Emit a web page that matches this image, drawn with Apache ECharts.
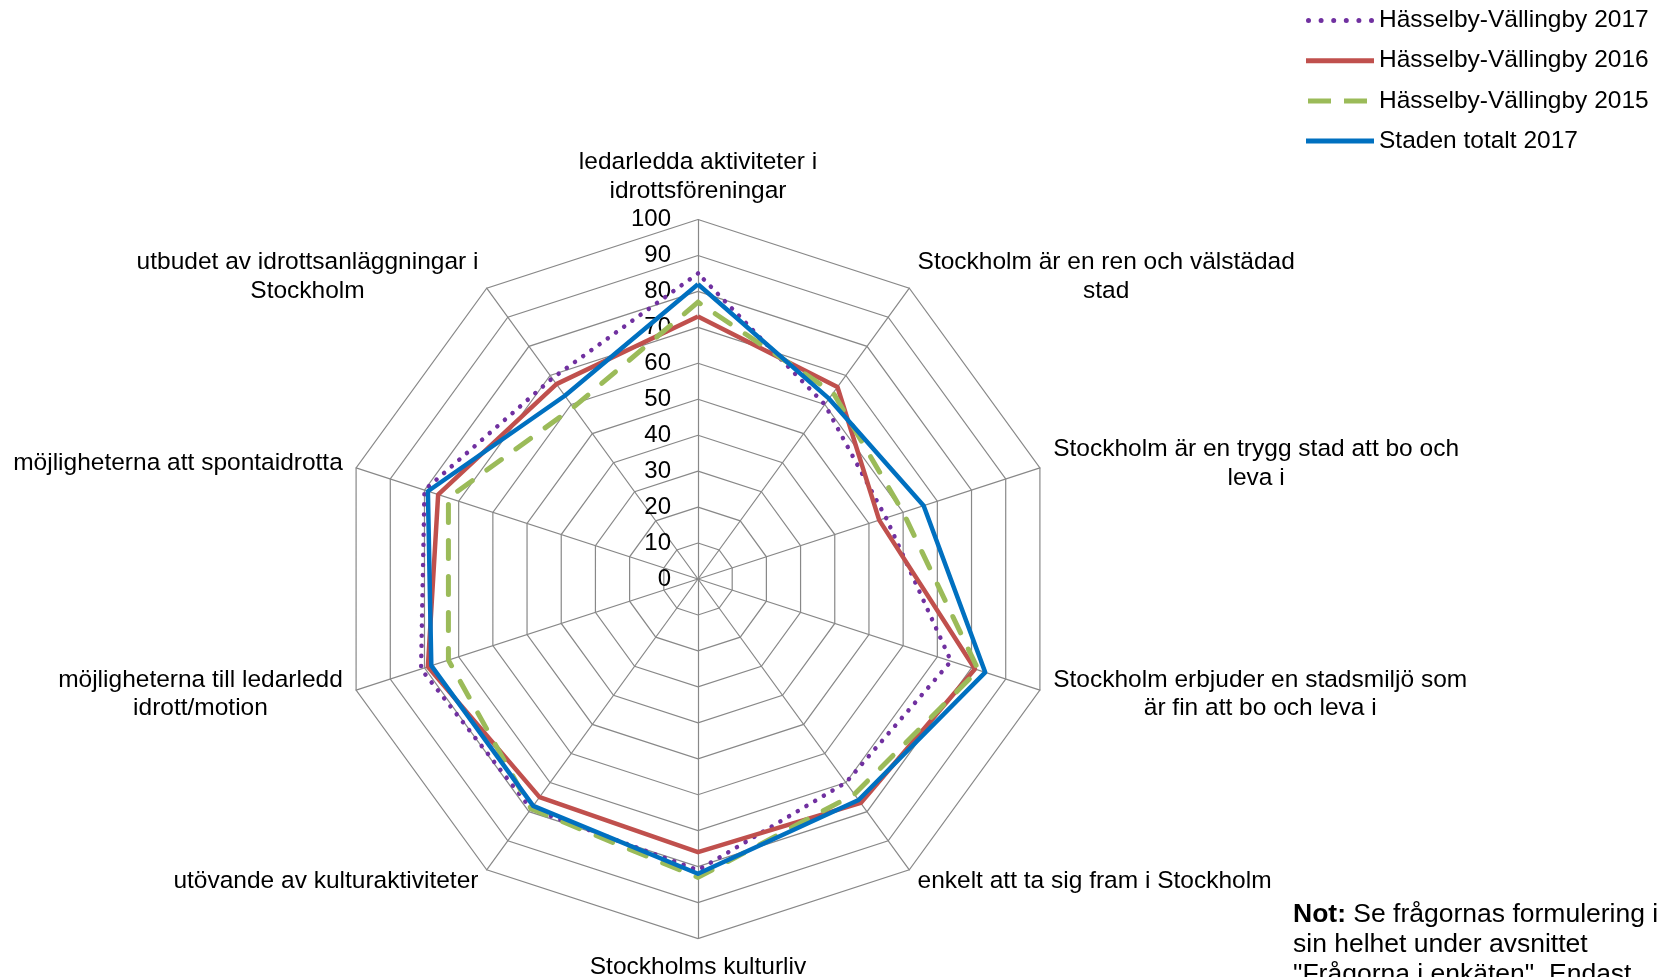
<!DOCTYPE html>
<html><head><meta charset="utf-8">
<script src="https://cdn.jsdelivr.net/npm/echarts@6/dist/echarts.min.js"></script>
<style>html,body{margin:0;padding:0;background:#fff}#main{width:1663px;height:977px}</style>
</head><body><div id="main"></div>
<script>
// Categories in clockwise order, starting at the top
const categories = [
  'ledarledda aktiviteter i\nidrottsföreningar',
  'Stockholm är en ren och välstädad\nstad',
  'Stockholm är en trygg stad att bo och\nleva i',
  'Stockholm erbjuder en stadsmiljö som\när fin att bo och leva i',
  'enkelt att ta sig fram i Stockholm',
  'Stockholms kulturliv',
  'utövande av kulturaktiviteter',
  'möjligheterna till ledarledd\nidrott/motion',
  'möjligheterna att spontaidrotta',
  'utbudet av idrottsanläggningar i\nStockholm'
];
const seriesNames = ['Hässelby-Vällingby 2017', 'Hässelby-Vällingby 2016', 'Hässelby-Vällingby 2015', 'Staden totalt 2017'];
const hv2017 = [85, 60, 55, 74, 70, 81, 79, 81, 80, 69];
const hv2016 = [73, 66, 53, 81, 77, 76, 75, 79, 76, 67];
const hv2015 = [77, 64, 60, 82, 74, 83, 79, 73, 73, 59];
const staden2017 = [82, 62, 66, 84, 76, 82, 78, 78, 79, 63];
const axisMin = 0, axisMax = 100, axisStep = 10;
const noteLines = ['{b|Not:} Se frågornas formulering i', 'sin helhet under avsnittet', '"Frågorna i enkäten". Endast'];

const FONT = '"Liberation Sans", Arial, sans-serif';
const colors = ['#7030A0', '#C0504D', '#9BBB59', '#0070C0'];

// ECharts places radar indicators counter-clockwise; reorder to get clockwise reading
const order = [0].concat(categories.slice(1).map((_, i) => categories.length - 1 - i));
const reorder = arr => order.map(i => arr[i]);

const indicators = order.map((i, k) => {
  const ind = { name: categories[i], min: axisMin, max: axisMax };
  if (k === 0) {
    ind.axisLabel = { show: true, margin: 27, fontSize: 24, fontFamily: FONT, color: '#000' };
  }
  return ind;
});

function dots(n, step, r) {
  let p = 'path://M0,0 ';
  for (let k = 0; k < n; k++) {
    const cx = r + k * step;
    p += 'M' + (cx - r) + ',' + r + 'a' + r + ',' + r + ' 0 1,0 ' + (2 * r) + ',0a' + r + ',' + r + ' 0 1,0 ' + (-2 * r) + ',0 ';
  }
  return p;
}
const icons = [
  dots(6, 12.6, 2.5),
  'path://M0,0H68V5H0Z',
  'path://M0,0 M2,0H25V5H2Z M38,0H61V5H38Z M68,5',
  'path://M0,0H68V5H0Z'
];

const styles = [
  { width: 4.5, type: [0.1, 10], cap: 'round' },
  { width: 4.5, type: 'solid' },
  { width: 5, type: [18, 18], cap: 'round' },
  { width: 4.5, type: 'solid' }
];
const values = [hv2017, hv2016, hv2015, staden2017];

const chart = echarts.init(document.getElementById('main'), null, { renderer: 'canvas' });
chart.setOption({
  backgroundColor: '#fff',
  animation: false,
  textStyle: { fontFamily: FONT },
  legend: {
    orient: 'vertical',
    left: 1301,
    top: 3,
    itemWidth: 68,
    itemHeight: 5,
    itemGap: 15.2,
    selectedMode: false,
    textStyle: { fontSize: 24.5, fontFamily: FONT, color: '#000' },
    data: seriesNames.map((n, i) => ({ name: n, icon: icons[i] }))
  },
  radar: {
    center: [698, 579],
    radius: 359.5,
    shape: 'polygon',
    splitNumber: (axisMax - axisMin) / axisStep,
    startAngle: 90,
    indicator: indicators,
    nameGap: 14,
    axisName: {
      color: '#000',
      fontSize: 24.5,
      fontFamily: FONT,
      formatter: function (v) {
        return v.split('\n').map(s => '{c|' + s + '}').join('\n');
      },
      rich: { c: { align: 'center', fontSize: 24.5, fontFamily: FONT, color: '#000', lineHeight: 28.6 } }
    },
    axisLine: { show: true, lineStyle: { color: '#888888', width: 1.2 } },
    splitLine: { show: true, lineStyle: { color: '#888888', width: 1.2 } },
    splitArea: { show: false },
    axisTick: { show: false },
    axisLabel: { show: false }
  },
  graphic: [{
    type: 'text',
    left: 1293,
    top: 899,
    style: {
      text: noteLines.join('\n'),
      font: '26.5px ' + FONT,
      fill: '#000',
      lineHeight: 30.4,
      rich: { b: { fontWeight: 'bold', fontSize: 26.5, fontFamily: FONT, fill: '#000', lineHeight: 30.4 } }
    }
  }],
  series: seriesNames.map((n, i) => ({
    type: 'radar',
    name: n,
    symbol: 'none',
    z: 2 + i,
    itemStyle: { color: colors[i] },
    lineStyle: Object.assign({ color: colors[i] }, styles[i]),
    data: [{ name: n, value: reorder(values[i]) }]
  }))
});
</script>
</body></html>
